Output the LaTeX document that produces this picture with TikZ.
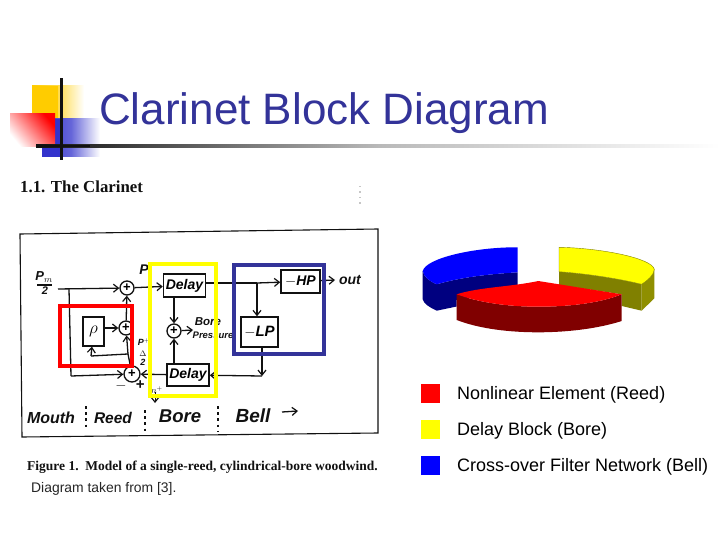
\documentclass[tikz,border=0pt]{standalone}
\usepackage{fontspec}
\setmainfont{Liberation Sans}
\newfontfamily\papersf{Liberation Serif}
\usetikzlibrary{arrows.meta,calc}
\definecolor{titleblue}{HTML}{333399}
\definecolor{logoyellow}{HTML}{FFCC00}
\definecolor{logoblue}{HTML}{3333CC}
\definecolor{ink}{HTML}{111111}
\definecolor{pureRed}{HTML}{FF0000}
\definecolor{pureYellow}{HTML}{FFFF00}
\definecolor{pureBlue}{HTML}{0000FF}
\definecolor{darkRed}{HTML}{800000}
\definecolor{darkYellow}{HTML}{808000}
\definecolor{sideYellow}{HTML}{8F8F00}
\definecolor{darkBlue}{HTML}{000080}
\tikzset{
  x=1pt,y=-1pt,
  wire/.style={draw=ink,line width=1.3pt},
  flow/.style={wire,-{Straight Barb[length=5pt,width=8pt,line width=1.2pt]}},
  blockbox/.style={draw=ink,line width=1.5pt,fill=white,inner sep=0pt,anchor=center,font=\fontsize{14}{14}\selectfont\itshape\bfseries},
  sumnode/.style={circle,draw=ink,line width=1.3pt,fill=white,minimum size=14pt,inner sep=0pt,font=\fontsize{13}{13}\selectfont\bfseries},
  handtext/.style={text=ink,inner sep=0pt,font=\fontsize{#1}{#1}\selectfont\itshape\bfseries},
  handtext/.default=15,
  dotrow/.style={draw=ink,line width=2.6pt,dash pattern=on 2.6pt off 3.6pt},
  overlay box/.style={draw=#1,line width=4pt,fill=none,miter limit=10},
  legendbox/.style={minimum size=19pt,inner sep=0pt,draw=none},
  legendtext/.style={anchor=west,inner sep=0pt,font=\fontsize{18}{18}\selectfont,text=black},
}
\begin{document}
\begin{tikzpicture}
\useasboundingbox (0,0) rectangle (720,540);
\fill[white] (0,0) rectangle (720,540);
% ---- logo
\shade[left color=logoyellow,right color=white,middle color=logoyellow!70!white] (32,86) rectangle (84,119);
\fill[logoyellow] (32,86) rectangle (58,119);
\shade[left color=logoblue,right color=white,middle color=logoblue!75!white] (42,119) rectangle (100,157);
\fill[logoblue] (42,119) rectangle (62,157);
\shade[top color=pureRed,bottom color=white,shading angle=-50] (10,114) rectangle (55,147);
\shade[left color=ink,right color=white,middle color=gray!55!white] (36,144.7) rectangle (720,147.3);
\fill[ink] (36,144.7) rectangle (90,147.3);
\fill[ink] (59.5,78) rectangle (62.5,160);
\node[anchor=base west,inner sep=0pt,text=titleblue,font=\fontsize{44}{44}\selectfont] (title) at (99,125) {Clarinet Block Diagram};
% ---- scan: heading and frame
\node[anchor=base west,inner sep=0pt,font=\papersf\bfseries\fontsize{16.8}{16.8}\selectfont,text=ink] (heading) at (20,193) {1.1. The Clarinet};
\draw[gray!45,line width=1.2pt,dash pattern=on 1.5pt off 4pt] (360,186) -- (360,205);
\draw[ink,line width=1.1pt] (20,234) -- (378,229) -- (378,433) -- (22,437) -- cycle;
\node[anchor=base west,inner sep=0pt,font=\papersf\bfseries\fontsize{13.5}{13.5}\selectfont,text=ink] (caption) at (27,470) {Figure 1.\ \ Model of a single-reed, cylindrical-bore woodwind.};
\node[anchor=base west,inner sep=0pt,font=\fontsize{13.9}{13.9}\selectfont,text=black!85] (credit) at (31,492) {Diagram taken from [3].};
% ---- blocks
\node[blockbox,minimum width=42pt,minimum height=23pt] (delayA) at (184.5,285.5) {Delay};
\node[blockbox,minimum width=42pt,minimum height=22pt] (delayB) at (188,375) {Delay};
\node[blockbox,minimum width=39pt,minimum height=23pt] (hp) at (300.5,281.5) {$-$HP};
\node[blockbox,minimum width=37pt,minimum height=30pt,font=\fontsize{15}{15}\selectfont\itshape\bfseries] (lp) at (259.5,332) {$-$LP};
\node[blockbox,minimum width=21pt,minimum height=29pt,font=\fontsize{19}{19}\selectfont] (reed) at (93.5,331.5) {$\rho$};
\node[sumnode] (sumTop) at (127,288) {+};
\node[sumnode] (sumReed) at (126,328) {+};
\node[sumnode] (sumBore) at (174,331) {+};
\node[sumnode,minimum size=16pt] (sumLow) at (132,374) {+};
% ---- free ends
\coordinate (pmEnd) at (58,289);
\coordinate (jMouth) at (69,289);
\coordinate (jLow) at (71,376);
\coordinate (jHp) at (257,283);
\coordinate (jBack) at (262,376);
\coordinate (jFb) at (128,354);
\coordinate (jFbL) at (91,356);
\coordinate (outEnd) at (335,280);
\coordinate (boreEnd) at (193,330);
\coordinate (pPlusTop) at (155,392);
\coordinate (pPlusEnd) at (155,403);
\coordinate (bellA) at (282,412);
\coordinate (bellB) at (298,411);
% ---- connectors
\draw[flow] (pmEnd) -- (sumTop);
\draw[flow] (sumTop) -- (delayA);
\draw[wire] (delayA.east |- 0,283) -- (jHp);
\draw[flow] (jHp) -- (hp);
\draw[flow] (jHp) -- (jHp |- lp.north);
\draw[flow] (hp) -- (outEnd);
\draw[flow] (delayA.south -| sumBore) -- (sumBore);
\draw[flow] (delayB.north -| sumBore) -- (sumBore);
\draw[flow] (sumBore) -- (boreEnd);
\draw[wire] (jMouth) -- (jLow);
\draw[flow] (jLow) -- (sumLow);
\draw[flow] (delayB) -- (sumLow);
\draw[flow] (reed.east |- sumReed) -- (sumReed);
\draw[flow] (sumReed) -- (sumTop);
\draw[flow] (jFb) -- (sumReed);
\draw[wire] (jFb) -- (jFbL);
\draw[flow] (jFbL) -- (reed);
\draw[wire] (sumLow) -- (jFb);
\draw[flow] (lp.south -| jBack) -- (jBack);
\draw[flow] (jBack) -- (delayB);
\draw[flow,line width=1pt] (pPlusTop) -- (pPlusEnd);
\draw[flow] (bellA) -- (bellB);
% ---- hand labels
\node[handtext=13] (pm) at (44,277) {P$_{m}$};
\draw[ink,line width=1.2pt] (37,285) -- (52,285);
\node[handtext=11] (two) at (45,291) {2};
\node[handtext=14] (pi) at (146,271) {P$_{i}$};
\node[handtext=11.5] (bore) at (208,322) {Bore};
\node[handtext=9.5] (press) at (213,335) {Pressure};
\node[handtext=14] (outlabel) at (350,280) {out};
\node[handtext=9] (pa) at (144,342) {P$^{+}$};
\node[handtext=8] (pb) at (143,353.5) {$\Delta$};
\node[handtext=9] (pc) at (143,362.5) {2};
\node[handtext=14] (minus) at (121,386) {$-$};
\node[handtext=15] (plus) at (140,385) {+};
\node[handtext=9] (pplus) at (157,390) {$n^{+}$};
\node[handtext=16] (mouth) at (51,418) {Mouth};
\node[handtext=15.5] (reedl) at (113,418) {Reed};
\node[handtext=18.5] (borel) at (180,416) {Bore};
\node[handtext=19] (belll) at (253,416) {Bell};
\draw[dotrow] (86,406) -- (86,430);
\draw[dotrow] (145,410) -- (145,434);
\draw[dotrow] (218,406) -- (218,432);
% ---- coloured overlays
\draw[overlay box=pureRed] (60,306) rectangle (132,366);
\draw[overlay box=pureYellow] (150,264) rectangle (216,396);
\draw[overlay box=titleblue] (234,265) rectangle (324,354);
% ---- pie
\fill[darkBlue] (422.7,271) .. controls (424,277) and (429,281) .. (436.7,284.3) .. controls (462,277) and (490,274) .. (517.7,272.3) -- (517.7,290) -- (456.7,300) -- (456.7,306.5) -- (436.7,310.7) .. controls (429,307) and (424,304) .. (422.7,299.3) -- cycle;
\fill[pureBlue] (517.7,247.3) -- (517.7,272.3) .. controls (490,274) and (462,277) .. (436.7,284.3) .. controls (429,281) and (424,277) .. (422.7,271) .. controls (426,258) and (475,247) .. (517.7,247.3) -- cycle;
\fill[darkYellow] (559,271.7) .. controls (590,274) and (620,279) .. (641.7,284.3) -- (641.7,310.7) -- (621.7,306) -- (621.7,294.3) -- (559,285) -- cycle;
\fill[sideYellow] (641.7,284.3) .. controls (648,280) and (654,275) .. (654.3,269.3) -- (654.3,298.3) -- (641.7,310.7) -- cycle;
\fill[pureYellow,draw=darkYellow,line width=.4pt] (559,247.3) .. controls (600,248) and (652,258) .. (654.3,269.3) .. controls (654,275) and (648,280) .. (641.7,284.3) .. controls (620,279) and (590,274) .. (559,271.7) -- cycle;
\fill[darkRed] (456.7,294.3) .. controls (480,303) and (510,306.7) .. (538,306.7) .. controls (570,306.7) and (600,303) .. (621.7,294.3) -- (621.7,321) .. controls (600,328) and (570,332.3) .. (538,332.3) .. controls (510,332.3) and (480,329) .. (456.7,320) -- cycle;
\fill[pureRed] (538.3,281) -- (621.7,294.3) .. controls (600,303) and (570,306.7) .. (538,306.7) .. controls (510,306.7) and (480,303) .. (456.7,294.3) .. controls (480,287) and (510,287) .. (538.3,281) -- cycle;
% ---- legend
\node[legendbox,fill=pureRed] (lgA) at (430.5,393) {};
\node[legendbox,fill=pureYellow] (lgB) at (430.5,429) {};
\node[legendbox,fill=pureBlue] (lgC) at (430.5,465) {};
\node[legendtext] (lgAt) at (457,394.5) {Nonlinear Element (Reed)};
\node[legendtext] (lgBt) at (457,430.5) {Delay Block (Bore)};
\node[legendtext] (lgCt) at (457,466.5) {Cross-over Filter Network (Bell)};
\end{tikzpicture}
\end{document}
